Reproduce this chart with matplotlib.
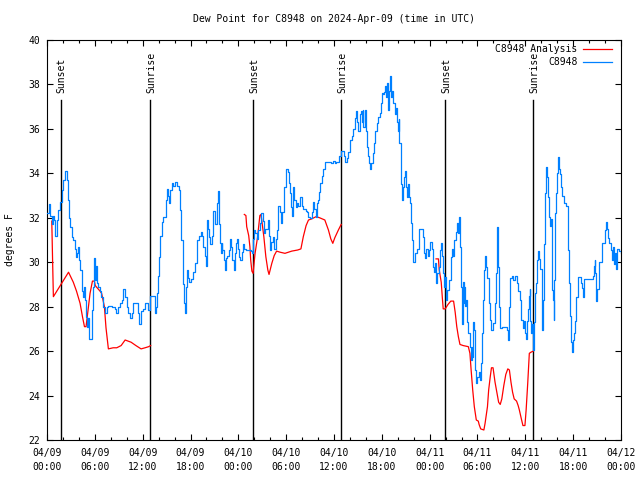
import numpy as np
import matplotlib
matplotlib.use("Agg")
import matplotlib.pyplot as plt
from matplotlib.ticker import MultipleLocator, FuncFormatter

# hours since 2024-04-09 00:00 UTC
obs_hours = [0.0, 0.25, 0.4, 0.6, 0.75, 0.9, 1.0, 1.2, 1.4, 1.6, 1.85, 2.05, 2.25, 2.5, 2.6, 2.75, 2.9, 3.1, 3.3, 3.5,
             3.6, 3.75, 3.9, 4.0, 4.15, 4.35, 4.45, 4.55, 4.7, 4.78, 4.85, 5.0, 5.15, 5.3, 5.45, 5.6, 5.8, 5.95, 6.02, 6.1,
             6.25, 6.4, 6.65, 6.8, 7.05, 7.3, 7.5, 7.7, 8.1, 8.5, 8.6, 8.9, 9.15, 9.4, 9.55, 9.75, 10.0, 10.2, 10.4, 10.6,
             10.8, 11.25, 11.45, 11.6, 11.8, 12.0, 12.3, 12.5, 12.7, 12.95, 13.35, 13.5, 13.55, 13.7, 13.85, 13.95, 14.1, 14.2, 14.4, 14.5,
             14.8, 14.95, 15.1, 15.2, 15.35, 15.45, 15.65, 15.8, 16.05, 16.25, 16.5, 16.7, 16.8, 17.0, 17.1, 17.2, 17.35, 17.45, 17.6, 17.7,
             17.85, 18.1, 18.35, 18.55, 18.8, 18.85, 19.1, 19.3, 19.4, 19.6, 19.8, 19.9, 20.05, 20.1, 20.25, 20.35, 20.45, 20.65, 20.8, 20.85,
             21.05, 21.3, 21.4, 21.55, 21.7, 21.85, 21.9, 22.0, 22.2, 22.3, 22.45, 22.6, 22.8, 22.95, 23.05, 23.2, 23.4, 23.55, 23.7, 23.85,
             24.0, 24.1, 24.25, 24.4, 24.55, 24.7, 25.0, 25.4, 25.6, 25.75, 25.85, 26.0, 26.15, 26.4, 26.5, 26.7, 26.85, 27.05, 27.2, 27.35,
             27.7, 27.85, 28.0, 28.15, 28.35, 28.5, 28.7, 28.8, 29.0, 29.2, 29.35, 29.5, 29.75, 29.95, 30.2, 30.35, 30.45, 30.6, 30.75, 30.9,
             31.0, 31.2, 31.35, 31.5, 31.75, 31.95, 32.15, 32.45, 32.6, 32.75, 32.95, 33.2, 33.4, 33.5, 33.7, 33.85, 33.95, 34.1, 34.3, 34.45,
             34.65, 34.85, 35.25, 35.6, 35.9, 36.1, 36.3, 36.6, 36.9, 37.2, 37.4, 37.6, 37.8, 38.0, 38.2, 38.4, 38.6, 38.75, 38.9, 39.05,
             39.2, 39.35, 39.45, 39.6, 39.7, 39.85, 39.95, 40.0, 40.2, 40.3, 40.45, 40.5, 40.7, 40.95, 41.05, 41.2, 41.35, 41.55, 41.75, 41.85,
             42.0, 42.2, 42.3, 42.4, 42.5, 42.7, 42.8, 42.9, 43.05, 43.2, 43.3, 43.45, 43.6, 43.75, 43.85, 44.0, 44.1, 44.2, 44.35, 44.45,
             44.55, 44.7, 44.8, 44.95, 45.05, 45.2, 45.3, 45.4, 45.55, 45.7, 45.8, 45.95, 46.2, 46.4, 46.6, 47.0, 47.15, 47.3, 47.45, 47.6,
             47.75, 47.85, 47.95, 48.1, 48.25, 48.4, 48.55, 48.65, 48.8, 48.95, 49.15, 49.3, 49.45, 49.55, 49.7, 49.85, 49.95, 50.05, 50.15, 50.3,
             50.45, 50.65, 50.85, 50.95, 51.05, 51.25, 51.4, 51.5, 51.65, 51.8, 51.9, 52.0, 52.15, 52.25, 52.35, 52.45, 52.55, 52.7, 52.8, 52.85,
             53.0, 53.15, 53.25, 53.35, 53.45, 53.55, 53.7, 53.85, 53.95, 54.2, 54.3, 54.45, 54.6, 54.75, 54.85, 55.0, 55.1, 55.25, 55.45, 55.55,
             55.7, 55.9, 56.15, 56.3, 56.4, 56.5, 56.6, 56.75, 56.85, 57.1, 57.45, 57.7, 57.8, 57.95, 58.1, 58.3, 58.5, 58.7, 58.9, 59.1,
             59.3, 59.5, 59.7, 59.8, 59.95, 60.1, 60.2, 60.35, 60.45, 60.55, 60.6, 60.7, 60.8, 60.9, 61.0, 61.1, 61.2, 61.35, 61.45, 61.6,
             61.75, 61.85, 62.05, 62.1, 62.2, 62.35, 62.5, 62.6, 62.75, 62.85, 62.95, 63.1, 63.2, 63.3, 63.4, 63.45, 63.55, 63.65, 63.75, 63.9,
             64.0, 64.1, 64.2, 64.35, 64.5, 64.65, 64.85, 65.1, 65.3, 65.4, 65.5, 65.6, 65.75, 65.85, 66.0, 66.1, 66.25, 66.35, 66.55, 66.8,
             67.0, 67.15, 67.25, 67.4, 67.75, 68.1, 68.45, 68.6, 68.75, 68.8, 68.9, 69.05, 69.2, 69.3, 69.6, 69.65, 69.85, 70.0, 70.1, 70.25,
             70.35, 70.5, 70.7, 70.85, 70.95, 71.05, 71.15, 71.3, 71.4, 71.5, 71.7, 72.0]
obs_dewpt = [32.2, 32.6, 32.1, 31.7, 32.1, 31.9, 31.2, 31.9, 32.35, 32.7, 33.25, 33.7, 34.1, 33.7, 32.8, 32.0, 31.6, 31.15, 31.0, 30.6,
             30.25, 30.4, 30.7, 30.1, 29.65, 29.2, 28.7, 28.45, 28.9, 28.3, 27.55, 27.1, 27.5, 26.55, 26.55, 27.85, 28.9, 30.2, 29.2, 29.85,
             29.05, 28.9, 28.7, 28.45, 28.0, 27.7, 28.0, 28.05, 28.0, 27.9, 27.7, 28.0, 28.15, 28.3, 28.8, 28.45, 28.0, 27.7, 27.5, 27.7,
             28.15, 28.15, 27.7, 27.2, 27.8, 27.9, 28.15, 28.15, 27.85, 28.5, 28.5, 28.3, 27.7, 28.0, 28.6, 29.4, 30.25, 31.2, 31.8, 32.05,
             32.05, 32.8, 33.3, 33.0, 32.65, 33.25, 33.55, 33.45, 33.6, 33.45, 33.25, 32.35, 31.0, 30.1, 29.0, 28.15, 27.7, 28.9, 29.65, 29.3,
             29.1, 29.25, 29.55, 29.95, 30.55, 31.0, 31.2, 31.35, 31.2, 30.7, 30.3, 29.85, 31.15, 31.9, 31.5, 31.15, 30.8, 31.2, 31.8, 32.3,
             31.7, 32.65, 33.2, 31.7, 30.85, 30.4, 30.85, 30.55, 30.1, 29.65, 30.2, 30.3, 30.55, 31.05, 30.7, 30.1, 29.65, 30.4, 30.85, 31.05,
             30.6, 30.25, 30.1, 30.45, 30.8, 30.6, 30.55, 30.55, 30.5, 30.4, 31.05, 31.45, 31.3, 31.05, 31.45, 31.75, 32.2, 31.85, 31.3, 31.5,
             31.9, 31.2, 30.55, 30.9, 31.15, 30.6, 31.05, 31.45, 32.55, 32.25, 31.75, 32.25, 33.4, 34.2, 34.05, 33.55, 33.1, 32.5, 32.1, 33.4,
             32.8, 32.5, 32.65, 32.55, 32.95, 32.55, 32.4, 32.3, 32.25, 32.05, 32.0, 32.25, 32.7, 32.4, 32.05, 32.65, 32.8, 33.15, 33.55, 33.9,
             34.2, 34.5, 34.5, 34.45, 34.55, 34.45, 34.5, 34.8, 35.0, 34.8, 34.5, 34.7, 34.95, 35.5, 35.7, 36.0, 36.5, 36.8, 36.3, 35.9,
             36.65, 36.8, 36.3, 36.85, 36.1, 36.6, 36.85, 35.9, 35.2, 34.8, 34.45, 34.2, 34.45, 34.9, 35.35, 35.9, 36.25, 36.55, 36.7, 37.15,
             37.6, 37.55, 37.65, 37.95, 37.45, 38.05, 36.85, 37.7, 38.4, 37.45, 37.7, 37.15, 36.65, 36.95, 36.3, 35.9, 36.45, 35.35, 34.7, 33.5,
             32.8, 33.4, 33.85, 34.1, 33.4, 32.95, 33.5, 32.95, 32.65, 31.75, 31.0, 30.0, 30.4, 30.6, 31.5, 31.5, 31.15, 30.4, 30.2, 30.6,
             30.45, 30.3, 30.55, 30.9, 30.6, 29.8, 29.55, 29.95, 29.05, 29.5, 29.8, 30.55, 30.85, 30.3, 29.5, 28.9, 29.35, 28.3, 28.75, 28.75,
             29.2, 30.25, 30.6, 30.3, 31.0, 31.35, 31.75, 31.3, 32.05, 30.7, 28.9, 27.2, 29.1, 28.15, 28.9, 28.05, 28.3, 27.3, 27.2, 26.8,
             26.2, 25.6, 26.2, 25.75, 27.3, 26.95, 25.15, 24.55, 24.85, 25.05, 24.7, 25.45, 26.8, 28.3, 29.65, 30.3, 29.8, 29.3, 28.15, 27.4,
             26.95, 27.25, 28.15, 29.5, 30.85, 31.6, 29.8, 28.0, 27.05, 27.1, 27.1, 26.95, 26.5, 28.0, 29.3, 29.4, 29.2, 29.4, 29.05, 28.7,
             28.3, 27.4, 27.05, 27.35, 26.8, 26.55, 27.35, 27.9, 28.5, 28.8, 27.35, 26.8, 27.2, 26.5, 26.05, 27.3, 28.6, 29.05, 30.1, 30.5,
             30.15, 29.7, 28.3, 26.95, 28.3, 30.8, 33.1, 34.3, 33.85, 32.95, 32.05, 31.65, 31.95, 30.85, 28.75, 28.3, 27.4, 29.2, 32.2, 33.1,
             34.0, 34.75, 34.2, 33.95, 33.4, 33.0, 32.65, 32.55, 31.9, 30.55, 29.05, 27.6, 26.4, 25.95, 26.5, 26.8, 27.35, 28.45, 29.35, 29.35,
             29.05, 28.85, 28.45, 29.25, 29.25, 29.25, 29.4, 29.85, 30.1, 29.5, 28.25, 28.8, 29.05, 30.0, 30.0, 30.85, 30.85, 31.45, 31.8, 31.5,
             31.1, 30.85, 30.55, 30.1, 30.55, 30.7, 29.9, 30.4, 29.7, 30.6, 30.5, 30.4]

# analysis series, three separate night segments
ana1_hours = [0.6, 0.7, 0.8, 2.7, 3.3, 3.7, 4.15, 4.45, 4.7, 4.9, 5.05, 5.4, 5.7, 5.95, 6.05, 6.65, 6.85, 7.2, 7.4, 7.7,
              8.3, 8.75, 9.3, 9.8, 10.55, 11.15, 11.8, 12.3, 12.75, 13.0]
ana1_dewpt = [31.85, 30.1, 28.45, 29.55, 29.1, 28.7, 28.15, 27.55, 27.1, 27.1, 27.55, 28.6, 29.15, 29.15, 28.95, 28.7, 28.6, 28.0, 27.05, 26.1,
              26.15, 26.15, 26.25, 26.5, 26.4, 26.25, 26.1, 26.15, 26.2, 26.25]
ana2_hours = [24.75, 24.95, 25.05, 25.3, 25.45, 25.55, 25.7, 25.85, 26.1, 26.4, 26.7, 26.85, 26.95, 27.2, 27.45, 27.7, 27.85, 28.2, 28.5, 28.8,
              29.25, 29.85, 30.7, 31.45, 31.85, 32.15, 32.5, 32.8, 33.2, 33.75, 34.2, 34.85, 35.3, 35.6, 35.85, 36.1, 36.55, 36.9]
ana2_dewpt = [32.15, 32.1, 31.6, 31.2, 30.7, 30.1, 29.6, 29.5, 30.4, 31.1, 32.1, 32.15, 31.85, 31.15, 30.25, 29.65, 29.45, 29.95, 30.3, 30.5,
              30.45, 30.4, 30.5, 30.55, 30.6, 31.15, 31.65, 31.9, 31.95, 32.05, 32.0, 31.9, 31.45, 31.05, 30.85, 31.1, 31.45, 31.7]
ana3_hours = [48.8, 49.1, 49.2, 49.45, 49.6, 49.7, 49.95, 50.3, 50.65, 51.0, 51.2, 51.4, 51.6, 51.8, 52.2, 52.85, 53.05, 53.2, 53.4, 53.6,
              53.85, 54.1, 54.2, 54.4, 54.8, 54.95, 55.25, 55.4, 55.6, 55.75, 55.95, 56.2, 56.45, 56.65, 56.85, 57.05, 57.3, 57.55, 57.8, 58.0,
              58.2, 58.4, 58.6, 58.9, 59.1, 59.25, 59.5, 59.7, 59.95, 60.1, 60.3, 60.5, 60.7, 61.0]
ana3_dewpt = [30.15, 30.15, 29.65, 29.1, 28.35, 27.9, 27.9, 28.1, 28.25, 28.25, 27.75, 27.1, 26.65, 26.3, 26.25, 26.2, 25.9, 25.15, 24.25, 23.5,
              22.9, 22.85, 22.7, 22.5, 22.45, 22.75, 23.5, 24.25, 24.85, 25.25, 25.25, 24.6, 24.1, 23.7, 23.6, 23.85, 24.45, 24.95, 25.2, 25.15,
              24.6, 24.15, 23.85, 23.75, 23.55, 23.35, 22.95, 22.65, 22.65, 23.35, 24.55, 25.9, 25.95, 26.0]

sun_hours = [1.76, 12.96, 25.88, 36.92, 49.97, 61.0]
sun_labels = ["Sunset", "Sunrise", "Sunset", "Sunrise", "Sunset", "Sunrise"]

days = ["04/09", "04/10", "04/11", "04/12"]

plt.rcParams['font.family'] = "DejaVu Sans Mono"
plt.rcParams['font.size'] = 7

fig = plt.figure(figsize=(6.4, 4.8), dpi=100)
ax = fig.add_axes([47 / 640, 40 / 480, 574 / 640, 400 / 480])

# sunrise / sunset markers
for h, lab in zip(sun_hours, sun_labels):
    ax.plot([h, h], [22, 37.3], color='black', lw=1.0, zorder=1)
    ax.text(h + 0.1, 37.6, lab, rotation=90, ha='center', va='bottom', fontsize=7)

ax.plot(ana1_hours, ana1_dewpt, color='#ff0000', lw=0.9, label='C8948 Analysis', zorder=2)
ax.plot(ana2_hours, ana2_dewpt, color='#ff0000', lw=0.9, zorder=2)
ax.plot(ana3_hours, ana3_dewpt, color='#ff0000', lw=0.9, zorder=2)
ax.plot(obs_hours, obs_dewpt, color='#0080ff', lw=0.9, drawstyle='steps-post', label='C8948', zorder=3)

ax.set_xlim(0, 72)
ax.set_ylim(22, 40)
ax.xaxis.set_major_locator(MultipleLocator(6))
ax.xaxis.set_minor_locator(MultipleLocator(2))
ax.yaxis.set_major_locator(MultipleLocator(2))
ax.xaxis.set_major_formatter(FuncFormatter(
    lambda x, pos: "%s\n%02d:00" % (days[int(x // 24)], int(x % 24))))
ax.tick_params(which='both', direction='in', top=True, right=True, labelsize=7)
ax.tick_params(which='major', length=4, width=0.8)
ax.tick_params(which='minor', length=2.5, width=0.8)
ax.tick_params(axis='x', pad=6)
ax.tick_params(axis='y', pad=5)
for lbl in ax.get_xticklabels():
    lbl.set_linespacing(1.4)
for sp in ax.spines.values():
    sp.set_linewidth(0.8)

ax.set_ylabel("degrees F", fontsize=7)
ax.yaxis.set_label_coords(-0.056, 0.5)

fig.text(334 / 640, 1 - 19 / 480, "Dew Point for C8948 on 2024-Apr-09 (time in UTC)",
         ha='center', va='center', fontsize=7)

ax.legend(loc='upper right', bbox_to_anchor=(0.985, 0.99), frameon=False, markerfirst=False,
          handlelength=3.0, handletextpad=0.6, labelspacing=0.3, borderpad=0, borderaxespad=0,
          fontsize=7)

fig.savefig("out.png", dpi=100)
